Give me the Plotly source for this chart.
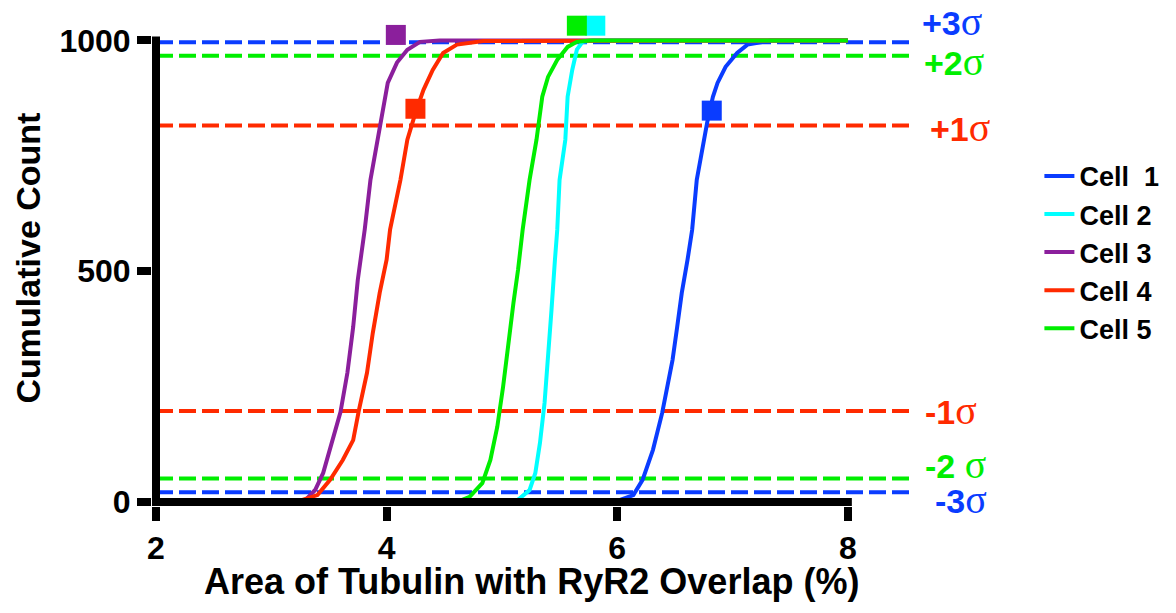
import plotly.graph_objects as go

# ---------------- data ----------------
cell_names = ["Cell\u00a0\u00a01", "Cell 2", "Cell 3", "Cell 4", "Cell 5"]
cell_colors = ["#0A3CFF", "#00FFFF", "#8B1F9C", "#FF2A00", "#00EE00"]

cell1_x = [3.0, 5.9, 6.02, 6.14, 6.22, 6.31, 6.39, 6.43, 6.48, 6.52, 6.56, 6.61, 6.65, 6.69, 6.74, 6.78, 6.83, 6.87, 6.94, 7.04, 7.13, 7.21, 7.33, 8.0]
cell1_y = [0, 0, 4, 15, 48, 113, 193, 249, 308, 379, 453, 525, 590, 698, 770, 822, 878, 908, 943, 973, 991, 995, 1000, 1000]

cell2_x = [3.0, 5.11, 5.16, 5.24, 5.29, 5.33, 5.37, 5.40, 5.43, 5.46, 5.48, 5.50, 5.55, 5.57, 5.61, 5.65, 5.70, 5.79, 8.0]
cell2_y = [0, 0, 9, 26, 63, 128, 215, 308, 416, 525, 590, 698, 785, 878, 936, 980, 997, 1000, 1000]

cell3_x = [3.0, 3.25, 3.30, 3.38, 3.45, 3.535, 3.60, 3.66, 3.71, 3.75, 3.81, 3.86, 3.92, 3.96, 4.01, 4.09, 4.18, 4.29, 4.46, 8.0]
cell3_y = [0, 0, 5, 26, 63, 134, 195, 280, 379, 481, 590, 698, 785, 843, 908, 952, 980, 997, 1000, 1000]

cell4_x = [3.0, 3.25, 3.40, 3.51, 3.62, 3.71, 3.76, 3.83, 3.88, 3.94, 4.00, 4.03, 4.12, 4.18, 4.25, 4.32, 4.40, 4.49, 4.61, 4.84, 8.0]
cell4_y = [0, 3, 15, 48, 91, 134, 199, 280, 366, 453, 525, 590, 698, 785, 843, 893, 936, 973, 991, 999, 1000]

cell5_x = [3.0, 4.64, 4.72, 4.83, 4.90, 4.96, 5.01, 5.05, 5.10, 5.14, 5.18, 5.24, 5.30, 5.35, 5.40, 5.48, 5.57, 5.65, 5.76, 8.0]
cell5_y = [0, 3, 11, 41, 91, 163, 249, 336, 431, 503, 590, 698, 785, 878, 921, 958, 986, 997, 1000, 1000]

marker_x = [6.82, 5.81, 4.08, 4.25, 5.65]
marker_y = [848, 1032, 1012, 852, 1032]

sigma_labels = ["+3", "+2", "+1", "-1", "-2 ", "-3"]
sigma_values = [996, 967, 816, 197, 51, 21]
sigma_colors = ["#0A3CFF", "#00EE00", "#FF2A00", "#FF2A00", "#00EE00", "#0A3CFF"]

x_ticks = [2, 4, 6, 8]
y_ticks = [0, 500, 1000]
x_title = "Area of Tubulin with RyR2 Overlap (%)"
y_title = "Cumulative Count"

# ---------------- figure ----------------
FONT = "Liberation Sans, Arial, sans-serif"
fig = go.Figure()

curves_x = [cell1_x, cell2_x, cell3_x, cell4_x, cell5_x]
curves_y = [cell1_y, cell2_y, cell3_y, cell4_y, cell5_y]
for name, col, xs, ys in zip(cell_names, cell_colors, curves_x, curves_y):
    fig.add_trace(go.Scatter(x=xs, y=ys, mode="lines", name=name,
                             line=dict(color=col, width=4)))

for i, col in enumerate(cell_colors):
    fig.add_trace(go.Scatter(x=[marker_x[i]], y=[marker_y[i]], mode="markers",
                             marker=dict(symbol="square", size=20, color=col),
                             showlegend=False, cliponaxis=False))

# reference (sigma) lines
label_shift = [21, -6, -2, 1, 14, -7]
label_xshift = [3, 5, 11, 6, 6, 16]
for lab, val, col, ys, xs in zip(sigma_labels, sigma_values, sigma_colors, label_shift, label_xshift):
    fig.add_shape(type="line", xref="x", yref="y", x0=2, x1=8.58, y0=val, y1=val,
                  line=dict(color=col, width=4, dash="17px,6px"), layer="below")
    fig.add_annotation(xref="paper", yref="y", x=1, y=val, xanchor="left", yanchor="middle",
                       xshift=xs, yshift=ys, showarrow=False,
                       text=lab + "<span style='font-family:Liberation Serif;font-weight:normal;font-size:40px'>\u03c3</span>",
                       font=dict(family=FONT, size=34, color=col, weight="bold"))

# x-axis title (placed as an annotation so it can sit as close as in the original)
fig.add_annotation(xref="paper", yref="paper", x=0.5, y=-0.152, xshift=-3,
                   xanchor="center", yanchor="middle", showarrow=False,
                   text=x_title,
                   font=dict(family=FONT, size=36, color="black", weight="bold"))

# axis lines (end at the data limits, like the original)
fig.add_shape(type="line", xref="x", yref="y", x0=1.9653, x1=8.035, y0=0, y1=0,
              line=dict(color="black", width=8), layer="above")
fig.add_shape(type="line", xref="x", yref="y", x0=2, x1=2, y0=-8.67, y1=1008.7,
              line=dict(color="black", width=8), layer="above")

fig.update_layout(
    width=1176, height=613,
    margin=dict(l=152, r=259, t=10, b=107, autoexpand=False),
    paper_bgcolor="white", plot_bgcolor="white",
    showlegend=True,
    legend=dict(x=1.160, y=0.714, xanchor="left", yanchor="top",
                font=dict(family=FONT, size=27, color="black", weight="bold"),
                bgcolor="rgba(0,0,0,0)"),
    xaxis=dict(range=[1.9653, 8.6], showgrid=False, zeroline=False, showline=False,
               automargin=False,
               tickmode="array", tickvals=x_ticks, ticks="outside", ticklen=14,
               tickwidth=8, tickcolor="black",
               tickfont=dict(family=FONT, size=32, color="black", weight="bold")),
    yaxis=dict(range=[-8.67, 1066], showgrid=False, zeroline=False, showline=False,
               automargin=False,
               tickmode="array", tickvals=y_ticks, ticks="outside", ticklen=14,
               tickwidth=8, tickcolor="black",
               tickfont=dict(family=FONT, size=32, color="black", weight="bold"),
               title=dict(text=y_title, standoff=8,
                          font=dict(family=FONT, size=34, color="black", weight="bold"))),
)

fig.write_html("out.html", config={"displayModeBar": False},
               post_script="document.body.style.margin='0';")
